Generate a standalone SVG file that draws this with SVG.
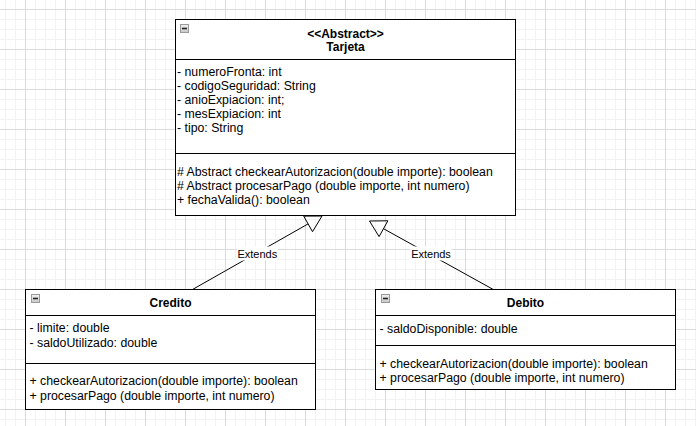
<svg xmlns="http://www.w3.org/2000/svg" width="696" height="426" viewBox="0 0 696 426">
  <defs>
    <pattern id="grid" x="25" y="9" width="40" height="40" patternUnits="userSpaceOnUse">
      <path d="M10.5 0V40M20.5 0V40M30.5 0V40M0 10.5H40M0 20.5H40M0 30.5H40" stroke="#f2f2f2" stroke-width="1" fill="none"/>
      <path d="M0.5 0V40M0 0.5H40" stroke="#dadada" stroke-width="1" fill="none"/>
    </pattern>
    <linearGradient id="iconfill" x1="0" y1="0" x2="0" y2="1">
      <stop offset="0" stop-color="#f2f2f2"/>
      <stop offset="1" stop-color="#c8c8c8"/>
    </linearGradient>
  </defs>
  <style>
    .box { fill: #ffffff; stroke: #000000; stroke-width: 1; }
    .sep { stroke: #000000; stroke-width: 1; }
    .t { font-family: "Liberation Sans", Arial, sans-serif; font-size: 12.3px; fill: #000000; }
    .title { font-family: "Liberation Sans", Arial, sans-serif; font-size: 12px; font-weight: bold; fill: #000000; text-anchor: middle; }
    .lbl { font-family: "Liberation Sans", Arial, sans-serif; font-size: 11px; fill: #000000; text-anchor: middle; }
    .edge { stroke: #000000; stroke-width: 1; fill: none; }
    .head { stroke: #000000; stroke-width: 1; fill: none; }
    .icon { fill: url(#iconfill); stroke: #9a9a9a; stroke-width: 1; }
    .iconbar { stroke: #222222; stroke-width: 1.6; }
  </style>
  <rect x="0" y="0" width="696" height="426" fill="#ffffff"/>
  <rect x="0" y="0" width="696" height="426" fill="url(#grid)"/>

  <g id="connectors">
    <line class="edge" x1="192.5" y1="289.5" x2="308.1" y2="223.9"/>
    <polygon class="head" points="322,216 303.7,216.1 312.5,231.7"/>
    <rect x="237" y="246.5" width="41" height="14" fill="#ffffff"/>
    <text class="lbl" x="257.3" y="258">Extends</text>

    <line class="edge" x1="493.3" y1="289.5" x2="383.5" y2="228.7"/>
    <polygon class="head" points="369.5,221 387.9,220.8 379.1,236.6"/>
    <rect x="410.5" y="246.5" width="41" height="14" fill="#ffffff"/>
    <text class="lbl" x="431" y="258">Extends</text>
  </g>

  <g id="tarjeta">
    <rect class="box" x="175.5" y="19.5" width="340" height="196"/>
    <line class="sep" x1="175.5" y1="59.5" x2="515.5" y2="59.5"/>
    <line class="sep" x1="175.5" y1="153.5" x2="515.5" y2="153.5"/>
    <rect class="icon" x="180.5" y="24.5" width="8" height="8"/>
    <line class="iconbar" x1="182" y1="28.5" x2="187" y2="28.5"/>
    <text class="title" x="345.5" y="37.5">&lt;&lt;Abstract&gt;&gt;</text>
    <text class="title" x="345.5" y="51">Tarjeta</text>
    <text class="t" x="177" y="76">- numeroFronta: int</text>
    <text class="t" x="177" y="90">- codigoSeguridad: String</text>
    <text class="t" x="177" y="104">- anioExpiacion: int;</text>
    <text class="t" x="177" y="118">- mesExpiacion: int</text>
    <text class="t" x="177" y="132">- tipo: String</text>
    <text class="t" x="177" y="175.5"># Abstract checkearAutorizacion(double importe): boolean</text>
    <text class="t" x="177" y="189.5"># Abstract procesarPago (double importe, int numero)</text>
    <text class="t" x="177" y="203.5">+ fechaValida(): boolean</text>
  </g>

  <g id="credito">
    <rect class="box" x="25.5" y="289.5" width="290" height="120"/>
    <line class="sep" x1="25.5" y1="315.5" x2="315.5" y2="315.5"/>
    <line class="sep" x1="25.5" y1="363.5" x2="315.5" y2="363.5"/>
    <rect class="icon" x="31.5" y="294.5" width="8" height="8"/>
    <line class="iconbar" x1="33" y1="298.5" x2="38" y2="298.5"/>
    <text class="title" x="170.5" y="307">Credito</text>
    <text class="t" x="29.5" y="332">- limite: double</text>
    <text class="t" x="29.5" y="347">- saldoUtilizado: double</text>
    <text class="t" x="29.5" y="385">+ checkearAutorizacion(double importe): boolean</text>
    <text class="t" x="29.5" y="399.5">+ procesarPago (double importe, int numero)</text>
  </g>

  <g id="debito">
    <rect class="box" x="375.5" y="289.5" width="300" height="100"/>
    <line class="sep" x1="375.5" y1="315.5" x2="675.5" y2="315.5"/>
    <line class="sep" x1="375.5" y1="345.5" x2="675.5" y2="345.5"/>
    <rect class="icon" x="381.5" y="294.5" width="8" height="8"/>
    <line class="iconbar" x1="383" y1="298.5" x2="388" y2="298.5"/>
    <text class="title" x="525.5" y="307">Debito</text>
    <text class="t" x="379.5" y="332.5">- saldoDisponible: double</text>
    <text class="t" x="379.5" y="367.5">+ checkearAutorizacion(double importe): boolean</text>
    <text class="t" x="379.5" y="381.5">+ procesarPago (double importe, int numero)</text>
  </g>
</svg>
